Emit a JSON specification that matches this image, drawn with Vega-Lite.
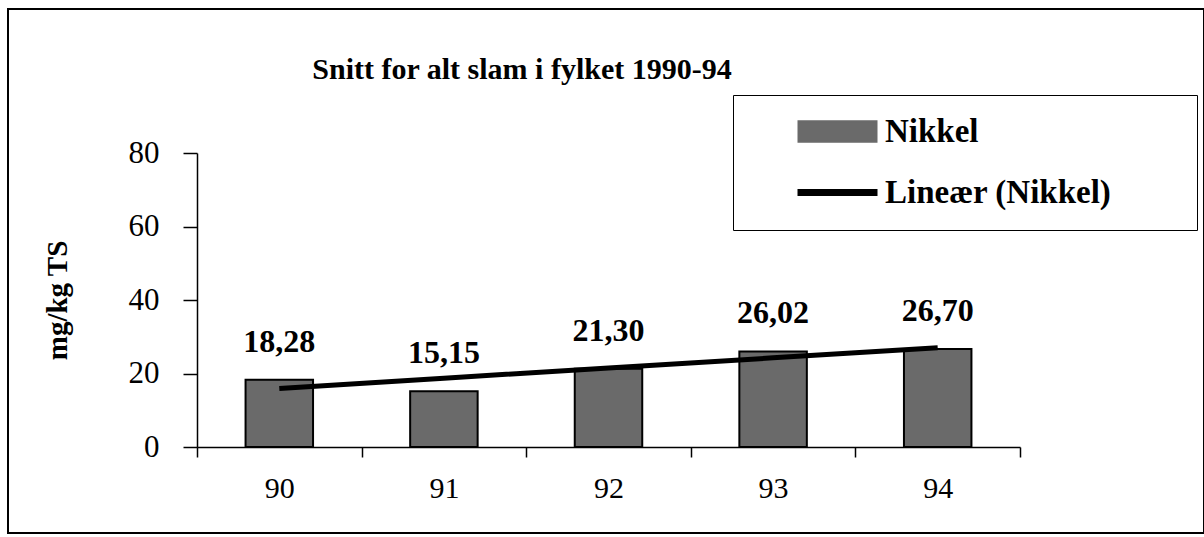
{
  "$schema": "https://vega.github.io/schema/vega-lite/v6.json",
  "width": 1196,
  "height": 524,
  "autosize": {"type": "none"},
  "padding": {"left": 8, "top": 9, "right": 0, "bottom": 4},
  "background": "white",
  "config": {
    "view": {"stroke": "black", "strokeWidth": 2},
    "font": "Liberation Serif",
    "locale": {"number": {"decimal": ",", "thousands": " ", "grouping": [3], "currency": ["", ""]}},
    "legend": {
      "titleOrient": "right",
      "titlePadding": 66,
      "titleFontSize": 10,
      "orient": "none",
      "legendX": 725,
      "legendY": 86,
      "direction": "vertical",
      "strokeColor": "black",
      "fillColor": "white",
      "padding": 20,
      "cornerRadius": 0,
      "symbolOffset": 68,
      "rowPadding": 27,
      "labelFont": "Liberation Serif",
      "labelFontSize": 33,
      "labelFontWeight": "bold",
      "labelColor": "black",
      "labelOffset": 31,
      "labelLimit": 0,
      "symbolType": {"expr": "datum.value === 'Nikkel' ? 'M-3,-0.78H3V0.78H-3Z' : 'M-3,-0.19H3V0.19H-3Z'"},
      "symbolSize": 676,
      "symbolStrokeColor": "black",
      "symbolStrokeWidth": 2,
      "symbolOpacity": 1
    }
  },
  "title": {
    "text": "Snitt for alt slam i fylket 1990-94",
    "font": "Liberation Serif",
    "fontSize": 30,
    "fontWeight": "bold",
    "color": "black",
    "anchor": "middle",
    "frame": "group",
    "baseline": "alphabetic",
    "offset": 0,
    "dx": -84,
    "dy": 100
  },
  "data": {
    "values": [
      {"year": "90", "value": 18.28, "trend": 15.95},
      {"year": "91", "value": 15.15, "trend": 18.72},
      {"year": "92", "value": 21.30, "trend": 21.49},
      {"year": "93", "value": 26.02, "trend": 24.26},
      {"year": "94", "value": 26.70, "trend": 27.03}
    ]
  },
  "encoding": {
    "x": {
      "field": "year",
      "type": "ordinal",
      "scale": {"range": [189, 1012], "paddingInner": 0, "paddingOuter": 0},
      "axis": {
        "title": null,
        "orient": "bottom",
        "offset": -86,
        "tickBand": "extent",
        "labelAngle": 0,
        "labelFont": "Liberation Serif",
        "labelFontSize": 30,
        "labelColor": "black",
        "labelPadding": 16,
        "tickSize": 10,
        "tickColor": "black",
        "tickWidth": 1.5,
        "domainColor": "black",
        "domainWidth": 1.5,
        "grid": false
      }
    }
  },
  "layer": [
    {
      "mark": {"type": "bar", "width": {"band": 0.41}, "stroke": "black", "strokeWidth": 2},
      "encoding": {
        "y": {
          "field": "value",
          "type": "quantitative",
          "scale": {"domain": [0, 80], "range": [438, 144], "nice": false, "zero": true},
          "axis": {
            "title": "mg/kg TS",
            "offset": -189,
            "values": [0, 20, 40, 60, 80],
            "grid": false,
            "tickSize": 14,
            "tickColor": "black",
            "tickWidth": 1.5,
            "domainColor": "black",
            "domainWidth": 1.5,
            "labelFont": "Liberation Serif",
            "labelFontSize": 31,
            "labelColor": "black",
            "labelPadding": 24,
            "titleFont": "Liberation Serif",
            "titleFontSize": 29,
            "titleFontWeight": "bold",
            "titleColor": "black",
            "titlePadding": 56
          }
        },
        "color": {
          "datum": "Nikkel",
          "type": "nominal",
          "scale": {"domain": ["Nikkel", "Lineær (Nikkel)"], "range": ["#6a6a6a", "#000000"]},
          "legend": {"title": "\u00a0"}
        }
      }
    },
    {
      "mark": {"type": "line", "strokeWidth": 5},
      "encoding": {
        "y": {"field": "trend", "type": "quantitative"},
        "color": {"datum": "Lineær (Nikkel)", "type": "nominal", "legend": {"title": "\u00a0"}}
      }
    },
    {
      "mark": {"type": "text", "dy": -28, "baseline": "alphabetic", "font": "Liberation Serif", "fontSize": 32, "fontWeight": "bold", "color": "black"},
      "encoding": {
        "y": {"field": "value", "type": "quantitative"},
        "text": {"field": "value", "type": "quantitative", "format": ".2f"}
      }
    }
  ]
}
